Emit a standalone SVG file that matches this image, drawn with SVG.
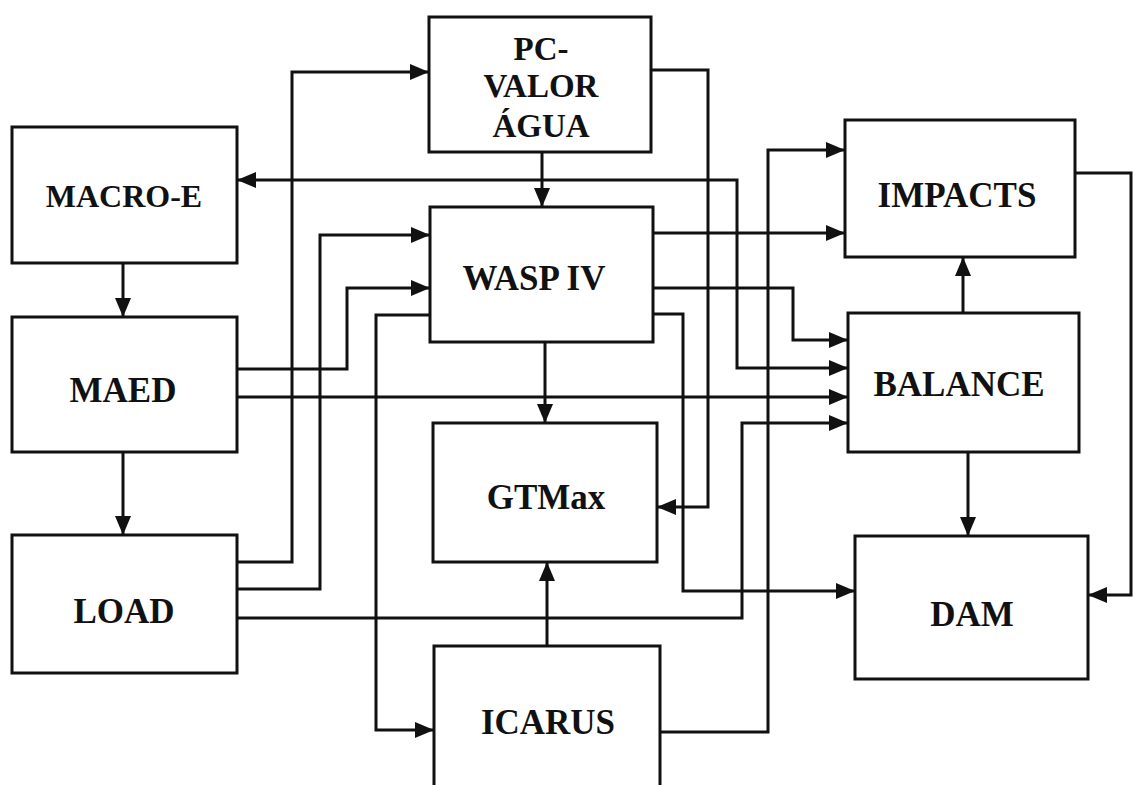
<svg xmlns="http://www.w3.org/2000/svg" width="1134" height="785" viewBox="0 0 1134 785">
<defs>
<marker id="arr" markerUnits="userSpaceOnUse" markerWidth="20" markerHeight="17" refX="19" refY="8" orient="auto-start-reverse" viewBox="0 0 20 16">
<path d="M0,0 L19,8 L0,16 Z" fill="#111"/>
</marker>
<style>
.box{fill:#fff;stroke:#111;stroke-width:3}
.lbl{font-family:"Liberation Serif","Times New Roman",serif;font-weight:bold;font-size:35px;fill:#111;text-anchor:middle}
.pc{font-size:33px}
.sm{font-size:32px}
.c{fill:none;stroke:#111;stroke-width:3;stroke-linejoin:miter}
.a{marker-end:url(#arr)}
</style>
</defs>
<rect width="1134" height="785" fill="#fff"/>
<g id="connectors">
<path class="c a" d="M123,263 V317"/>
<path class="c a" d="M123,452 V535"/>
<path class="c a" d="M542,152 V207"/>
<path class="c a" d="M545,342 V423"/>
<path class="c a" d="M547,646 V562"/>
<path class="c a" d="M963,313 V257"/>
<path class="c a" d="M968,452 V536"/>
<path class="c a" d="M1075,173 H1131 V595 H1088"/>
<path class="c a" d="M237,180 H737 V368 H848" marker-start="url(#arr)"/>
<path class="c a" d="M237,562 H292 V72 H429"/>
<path class="c a" d="M237,589 H320 V235 H430"/>
<path class="c a" d="M237,369 H347 V288 H430"/>
<path class="c a" d="M430,315 H376 V730 H434"/>
<path class="c a" d="M237,397 H848"/>
<path class="c a" d="M237,618 H742 V423 H848"/>
<path class="c a" d="M653,233 H845"/>
<path class="c a" d="M653,288 H793 V340 H848"/>
<path class="c a" d="M653,314 H683 V591 H855"/>
<path class="c a" d="M651,70 H708 V507 H657"/>
<path class="c a" d="M660,732 H768 V150 H845"/>
</g>
<g id="macro-e"><rect class="box" x="12" y="127" width="225" height="136"/><text class="lbl sm" x="124" y="207">MACRO-E</text></g>
<g id="maed"><rect class="box" x="12" y="317" width="225" height="135"/><text class="lbl" x="123" y="402">MAED</text></g>
<g id="load"><rect class="box" x="12" y="535" width="225" height="138"/><text class="lbl" x="124" y="623">LOAD</text></g>
<g id="pc-valor-agua"><rect class="box" x="429" y="17" width="222" height="135"/><text class="lbl pc" x="541" y="60">PC-</text><text class="lbl pc" x="541" y="97">VALOR</text><text class="lbl pc" x="541" y="137">ÁGUA</text></g>
<g id="wasp-iv"><rect class="box" x="430" y="207" width="223" height="135"/><text class="lbl" x="534" y="290">WASP IV</text></g>
<g id="gtmax"><rect class="box" x="433" y="423" width="224" height="139"/><text class="lbl" x="546" y="509">GTMax</text></g>
<g id="icarus"><rect class="box" x="434" y="646" width="226" height="160"/><text class="lbl" x="548" y="734">ICARUS</text></g>
<g id="impacts"><rect class="box" x="845" y="120" width="230" height="137"/><text class="lbl" x="957" y="207">IMPACTS</text></g>
<g id="balance"><rect class="box" x="848" y="313" width="231" height="139"/><text class="lbl" x="959" y="396">BALANCE</text></g>
<g id="dam"><rect class="box" x="855" y="536" width="233" height="143"/><text class="lbl" x="972" y="626">DAM</text></g>
</svg>
